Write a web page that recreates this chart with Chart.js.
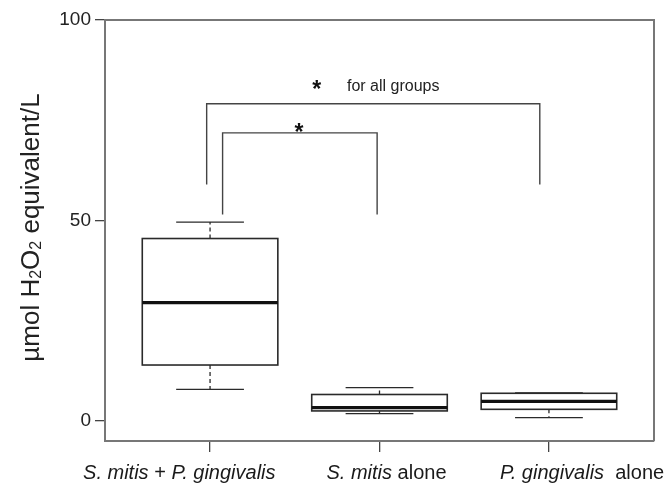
<!DOCTYPE html>
<html>
<head>
<script src="https://cdn.jsdelivr.net/npm/chart.js"></script>
<style>
  body { margin: 0; background: #ffffff; }
</style>
</head>
<body>
<canvas id="chart" width="669" height="485"></canvas>
<script>
// box plot data
const groups = ['S. mitis + P. gingivalis', 'S. mitis alone', 'P. gingivalis  alone'];
const whiskerLow  = [7.9, 1.85, 0.85];
const q1          = [13.95, 2.5, 2.9];
const median      = [29.5, 3.3, 4.9];
const q3          = [45.5, 6.6, 6.9];
const whiskerHigh = [49.6, 8.3, 7.0];
const yTicks = [0, 50, 100];

// significance brackets: [x left, x right, top, bottom left, bottom right]
const brackets = [
  [0.98, 2.946, 79.1, 59, 59],
  [1.074, 1.986, 71.85, 51.5, 51.5]
];
const stars = [[1.629, 84.1], [1.525, 73.4]];
const note = 'for all groups';

// label pieces: [text, italic]
const labelParts = [
  [['S. mitis', true], [' + ', false], ['P. gingivalis', true]],
  [['S. mitis', true], [' alone', false]],
  [['P. gingivalis', true], ['  alone', false]]
];
const labelShift = [-127, -53, -49];
// y title pieces: [text, subscript]
const titleParts = [['µmol H', false], ['2', true], ['O', false], ['2', true], [' equivalent/L', false]];

const FONT = '"Liberation Sans", Arial, Helvetica, sans-serif';
const BOX_W = 0.8;

const boxPlugin = {
  id: 'boxPlot',
  afterDraw(chart) {
    const { ctx, chartArea: a, scales: { x, y } } = chart;
    ctx.save();
    // frame on top + right
    ctx.strokeStyle = '#777';
    ctx.lineWidth = 2;
    ctx.beginPath();
    ctx.moveTo(a.left, a.top);
    ctx.lineTo(a.right, a.top);
    ctx.lineTo(a.right, a.bottom);
    ctx.stroke();

    groups.forEach((g, i) => {
      const c = x.getPixelForValue(i + 1);
      const l = x.getPixelForValue(i + 1 - BOX_W / 2);
      const r = x.getPixelForValue(i + 1 + BOX_W / 2);
      const cl = x.getPixelForValue(i + 1 - BOX_W / 4);
      const cr = x.getPixelForValue(i + 1 + BOX_W / 4);
      const yLo = y.getPixelForValue(whiskerLow[i]);
      const yQ1 = y.getPixelForValue(q1[i]);
      const yMed = y.getPixelForValue(median[i]);
      const yQ3 = y.getPixelForValue(q3[i]);
      const yHi = y.getPixelForValue(whiskerHigh[i]);

      ctx.strokeStyle = '#2a2a2a';
      ctx.lineWidth = 1.3;
      ctx.setLineDash([4, 3]);
      ctx.beginPath();
      ctx.moveTo(c, yQ1); ctx.lineTo(c, yLo);
      ctx.moveTo(c, yQ3); ctx.lineTo(c, yHi);
      ctx.stroke();
      ctx.setLineDash([]);
      ctx.beginPath();
      ctx.moveTo(cl, yLo); ctx.lineTo(cr, yLo);
      ctx.moveTo(cl, yHi); ctx.lineTo(cr, yHi);
      ctx.stroke();

      ctx.lineWidth = 1.6;
      ctx.strokeRect(l, yQ3, r - l, yQ1 - yQ3);
      ctx.strokeStyle = '#111';
      ctx.lineWidth = 3.3;
      ctx.beginPath();
      ctx.moveTo(l, yMed); ctx.lineTo(r, yMed);
      ctx.stroke();
    });

    // brackets
    ctx.strokeStyle = '#444';
    ctx.lineWidth = 1.4;
    brackets.forEach(b => {
      const xl = x.getPixelForValue(b[0]), xr = x.getPixelForValue(b[1]);
      ctx.beginPath();
      ctx.moveTo(xl, y.getPixelForValue(b[3]));
      ctx.lineTo(xl, y.getPixelForValue(b[2]));
      ctx.lineTo(xr, y.getPixelForValue(b[2]));
      ctx.lineTo(xr, y.getPixelForValue(b[4]));
      ctx.stroke();
    });

    ctx.fillStyle = '#111';
    ctx.textAlign = 'center';
    ctx.textBaseline = 'alphabetic';
    ctx.font = 'bold 23px ' + FONT;
    stars.forEach(s => {
      ctx.fillText('*', x.getPixelForValue(s[0]), y.getPixelForValue(s[1]) + 13);
    });
    ctx.font = '16px ' + FONT;
    ctx.textAlign = 'left';
    ctx.fillStyle = '#222';
    ctx.fillText(note, x.getPixelForValue(1.808), y.getPixelForValue(stars[0][1]) + 7);

    // category labels with mixed italic
    ctx.fillStyle = '#1a1a1a';
    labelParts.forEach((parts, i) => {
      let px = x.getPixelForValue(i + 1) + labelShift[i];
      parts.forEach(([t, it]) => {
        ctx.font = (it ? 'italic ' : '') + '20px ' + FONT;
        ctx.fillText(t, px, 479);
        px += ctx.measureText(t).width;
      });
    });

    // y axis title with subscripts
    ctx.fillStyle = '#222';
    ctx.translate(39, (a.top + a.bottom) / 2 - 3);
    ctx.rotate(-Math.PI / 2);
    let total = 0;
    titleParts.forEach(([t, sub]) => {
      ctx.font = (sub ? 16 : 26) + 'px ' + FONT;
      total += ctx.measureText(t).width;
    });
    let tx = -total / 2;
    titleParts.forEach(([t, sub]) => {
      ctx.font = (sub ? 16 : 26) + 'px ' + FONT;
      ctx.fillText(t, tx, sub ? 2 : 0);
      tx += ctx.measureText(t).width;
    });
    ctx.restore();
  }
};

new Chart(document.getElementById('chart'), {
  type: 'scatter',
  data: { datasets: [] },
  plugins: [boxPlugin],
  options: {
    responsive: false,
    animation: false,
    layout: { padding: { top: 20, right: 15, left: 0, bottom: 0 } },
    plugins: { legend: { display: false }, tooltip: { enabled: false } },
    scales: {
      x: {
        type: 'linear',
        min: 0.38,
        max: 3.62,
        afterBuildTicks: s => { s.ticks = groups.map((g, i) => ({ value: i + 1 })); },
        afterFit: s => { s.height = 44; },
        ticks: { display: false },
        grid: { drawOnChartArea: false, drawTicks: true, tickLength: 11, color: '#444', lineWidth: 1.3 },
        border: { display: true, color: '#777', width: 2 }
      },
      y: {
        type: 'linear',
        min: -5,
        max: 100,
        afterBuildTicks: s => { s.ticks = yTicks.map(v => ({ value: v })); },
        afterFit: s => { s.width = 105; },
        ticks: { color: '#222', font: { size: 19, family: FONT }, padding: 4 },
        grid: { drawOnChartArea: false, drawTicks: true, tickLength: 10, color: '#444', lineWidth: 1.3 },
        border: { display: true, color: '#777', width: 2 },
        title: { display: false }
      }
    }
  }
});
</script>
</body>
</html>
